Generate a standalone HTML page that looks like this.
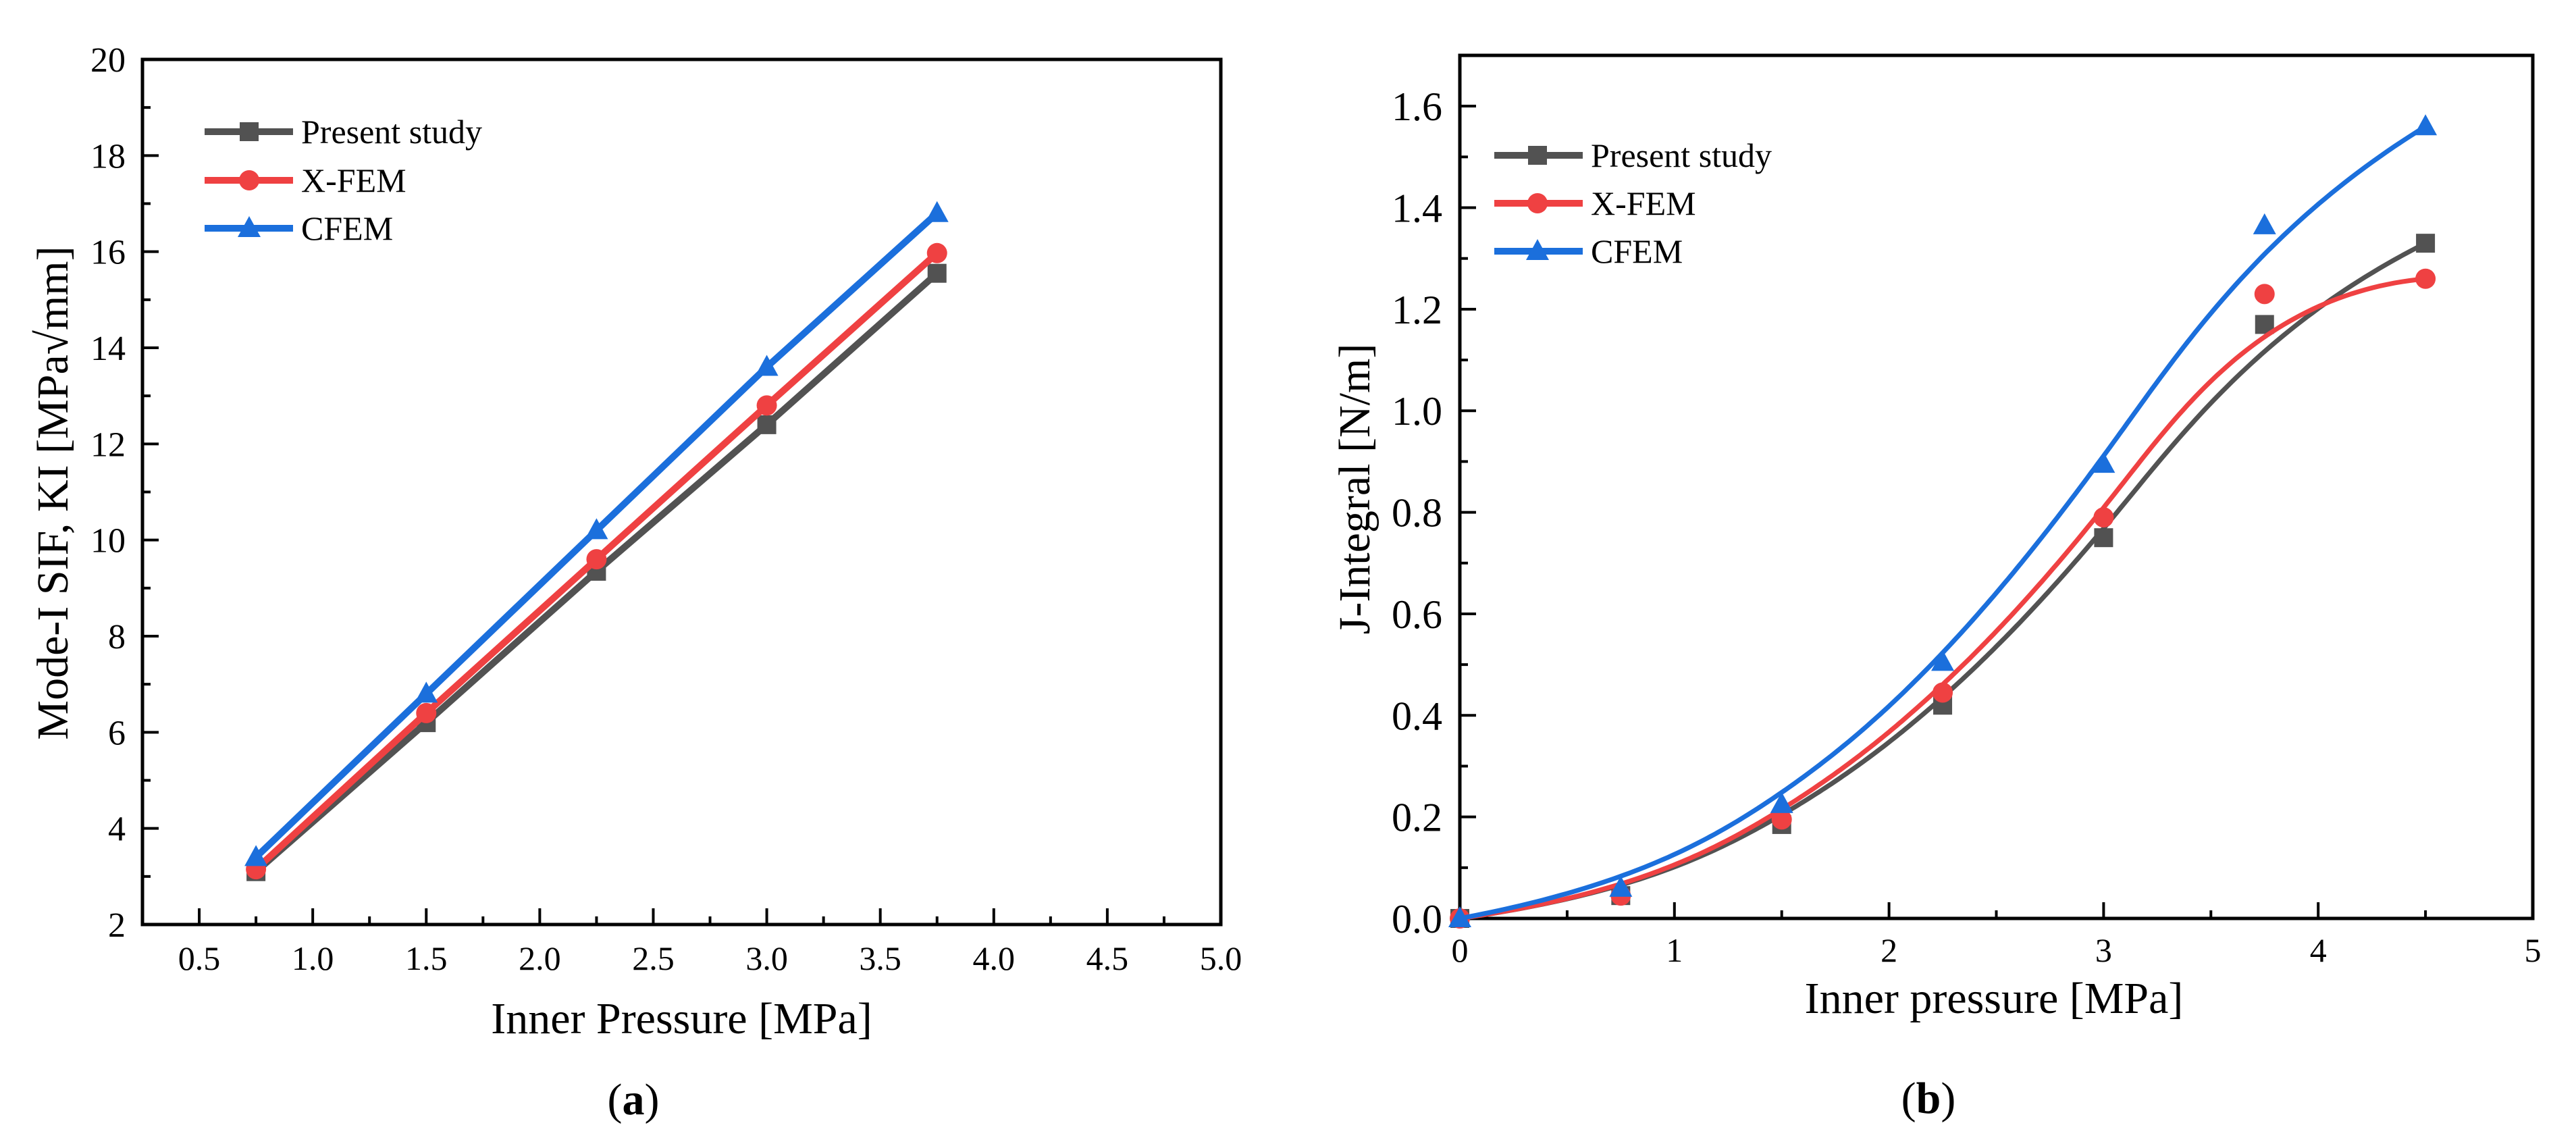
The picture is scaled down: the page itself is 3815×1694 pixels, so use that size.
<!DOCTYPE html>
<html><head><meta charset="utf-8"><style>
html,body{margin:0;padding:0;background:#fff;}
svg{display:block;font-family:"Liberation Serif",serif;}
</style></head><body>
<svg id="fig" width="3815" height="1694" viewBox="0 0 3815 1694"></svg>
<script>
// ---- Chart (a) data ----
const xA = [0.75, 1.5, 2.25, 3.0, 3.75];
const presentA = [3.1, 6.2, 9.35, 12.4, 15.55];
const xfemA = [3.15, 6.4, 9.6, 12.8, 15.97];
const cfemA = [3.4, 6.8, 10.2, 13.6, 16.8];
const xTicksA = ["0.5","1.0","1.5","2.0","2.5","3.0","3.5","4.0","4.5","5.0"];
const yTicksA = ["2","4","6","8","10","12","14","16","18","20"];
// ---- Chart (b) data ----
const xB = [0, 0.75, 1.5, 2.25, 3.0, 3.75, 4.5];
const presentB = [0, 0.045, 0.185, 0.42, 0.75, 1.17, 1.33];
const xfemB = [0, 0.045, 0.195, 0.445, 0.79, 1.23, 1.26];
const cfemB = [0, 0.06, 0.225, 0.505, 0.895, 1.365, 1.56];
const xTicksB = ["0","1","2","3","4","5"];
const yTicksB = ["0.0","0.2","0.4","0.6","0.8","1.0","1.2","1.4","1.6"];

const NS = "http://www.w3.org/2000/svg";
const svg = document.getElementById("fig");
const GRAY = "#525252", RED = "#EF4142", BLUE = "#1B6FDC";

function mk(tag, attrs, parent, name, inter) {
  const e = document.createElementNS(NS, tag);
  for (const k in attrs) e.setAttribute(k, attrs[k]);
  
  
  (parent || svg).appendChild(e);
  return e;
}
function txt(s, x, y, size, parent, name, extra) {
  const t = mk("text", Object.assign({x: x, y: y, "font-size": size, fill: "#000"}, extra || {}), parent, name, false);
  t.textContent = s;
  return t;
}
function marker(type, cx, cy, color, parent, name) {
  if (type === "sq") return mk("rect", {x: cx - 14, y: cy - 14, width: 28, height: 28, fill: color}, parent, name, false);
  if (type === "ci") return mk("circle", {cx: cx, cy: cy, r: 15, fill: color}, parent, name, false);
  return mk("polygon", {points: `${cx},${cy - 18} ${cx + 17},${cy + 13} ${cx - 17},${cy + 13}`, fill: color}, parent, name, false);
}
// clamped cubic B-spline through control points (Origin-style B-spline)
function bspline(P, steps) {
  const n = P.length, p = 3;
  const m = n - p; // number of internal spans
  const knots = [];
  for (let i = 0; i <= p; i++) knots.push(0);
  for (let i = 1; i < m; i++) knots.push(i);
  for (let i = 0; i <= p; i++) knots.push(m);
  const out = [];
  for (let s = 0; s <= steps; s++) {
    let t = m * s / steps;
    if (t >= m) t = m - 1e-9;
    let k = p; while (k < knots.length - p - 2 && t >= knots[k + 1]) k++;
    const d = [];
    for (let j = 0; j <= p; j++) d.push([P[j + k - p][0], P[j + k - p][1]]);
    for (let r = 1; r <= p; r++) {
      for (let j = p; j >= r; j--) {
        const i = j + k - p;
        const a = (t - knots[i]) / (knots[i + p + 1 - r] - knots[i]);
        d[j] = [(1 - a) * d[j - 1][0] + a * d[j][0], (1 - a) * d[j - 1][1] + a * d[j][1]];
      }
    }
    out.push(d[p]);
  }
  return out;
}

// ================= Chart A =================
const A = {l: 211, r: 1808, t: 88, b: 1369, x0: 0.25, x1: 5.0, y0: 2, y1: 20};
const sxA = v => A.l + (v - A.x0) / (A.x1 - A.x0) * (A.r - A.l);
const syA = v => A.b - (v - A.y0) / (A.y1 - A.y0) * (A.b - A.t);
const gA = mk("g", {}, svg, "chart-a", false);
mk("rect", {x: A.l, y: A.t, width: A.r - A.l, height: A.b - A.t, fill: "none", stroke: "#000", "stroke-width": 5}, gA, "plot-frame-a", false);
for (let i = 0; i < xTicksA.length; i++) {
  const v = parseFloat(xTicksA[i]), x = sxA(v);
  mk("line", {x1: x, y1: A.b, x2: x, y2: A.b - 24, stroke: "#000", "stroke-width": 4}, gA, "x-tick-a", false);
  if (v - 0.25 > A.x0) mk("line", {x1: sxA(v - 0.25), y1: A.b, x2: sxA(v - 0.25), y2: A.b - 12, stroke: "#000", "stroke-width": 4}, gA, "x-minor-tick-a", false);
  txt(xTicksA[i], x, 1436, 50, gA, "x-tick-label-a", {"text-anchor": "middle"});
}
for (let i = 0; i < yTicksA.length; i++) {
  const v = parseFloat(yTicksA[i]), y = syA(v);
  mk("line", {x1: A.l, y1: y, x2: A.l + 24, y2: y, stroke: "#000", "stroke-width": 4}, gA, "y-tick-a", false);
  if (v + 1 < A.y1) mk("line", {x1: A.l, y1: syA(v + 1), x2: A.l + 12, y2: syA(v + 1), stroke: "#000", "stroke-width": 4}, gA, "y-minor-tick-a", false);
  txt(yTicksA[i], 186, y + 18, 52, gA, "y-tick-label-a", {"text-anchor": "end"});
}
txt("Inner Pressure [MPa]", (A.l + A.r) / 2, 1530, 66, gA, "x-axis-title-a", {"text-anchor": "middle"});
txt("Mode-I SIF, KI [MPa\u221Amm]", 0, 0, 66, gA, "y-axis-title-a", {"text-anchor": "middle", transform: "translate(100,730) rotate(-90)"});
const capA = txt("(", 938, 1650, 66, gA, "caption-a", {"text-anchor": "middle"});
capA.innerHTML = '(<tspan font-weight="bold">a</tspan>)';
const seriesA = [[presentA, GRAY, "sq", "present-study"], [xfemA, RED, "ci", "x-fem"], [cfemA, BLUE, "tr", "cfem"]];
seriesA.forEach(([ys, c, m, nm]) => {
  const g = mk("g", {}, gA, "series-" + nm + "-a", false);
  mk("polyline", {points: xA.map((x, i) => sxA(x) + "," + syA(ys[i])).join(" "), fill: "none", stroke: c, "stroke-width": 10, "stroke-linejoin": "round"}, g, "line-" + nm + "-a", false);
  xA.forEach((x, i) => marker(m, sxA(x), syA(ys[i]), c, g, "point-" + nm + "-a"));
});
const legA = [[195, GRAY, "sq", "Present study"], [267, RED, "ci", "X-FEM"], [338, BLUE, "tr", "CFEM"]];
legA.forEach(([y, c, m, s]) => {
  const g = mk("g", {}, gA, "legend-entry-a", false);
  mk("line", {x1: 303, y1: y, x2: 434, y2: y, stroke: c, "stroke-width": 10}, g, "legend-line", false);
  marker(m, 369, y, c, g, "legend-marker");
  txt(s, 446, y + 17, 50, g, "legend-label");
});

// ================= Chart B =================
const B = {l: 2162, r: 3751, t: 82, b: 1360, x0: 0, x1: 5, y0: 0, y1: 1.7};
const sxB = v => B.l + (v - B.x0) / (B.x1 - B.x0) * (B.r - B.l);
const syB = v => B.b - (v - B.y0) / (B.y1 - B.y0) * (B.b - B.t);
const gB = mk("g", {}, svg, "chart-b", false);
mk("rect", {x: B.l, y: B.t, width: B.r - B.l, height: B.b - B.t, fill: "none", stroke: "#000", "stroke-width": 5}, gB, "plot-frame-b", false);
for (let i = 0; i < xTicksB.length; i++) {
  const v = parseFloat(xTicksB[i]), x = sxB(v);
  mk("line", {x1: x, y1: B.b, x2: x, y2: B.b - 24, stroke: "#000", "stroke-width": 4}, gB, "x-tick-b", false);
  if (v + 0.5 < B.x1) mk("line", {x1: sxB(v + 0.5), y1: B.b, x2: sxB(v + 0.5), y2: B.b - 12, stroke: "#000", "stroke-width": 4}, gB, "x-minor-tick-b", false);
  txt(xTicksB[i], x, 1424, 50, gB, "x-tick-label-b", {"text-anchor": "middle"});
}
for (let i = 0; i < yTicksB.length; i++) {
  const v = parseFloat(yTicksB[i]), y = syB(v);
  mk("line", {x1: B.l, y1: y, x2: B.l + 24, y2: y, stroke: "#000", "stroke-width": 4}, gB, "y-tick-b", false);
  if (v + 0.1 < B.y1) mk("line", {x1: B.l, y1: syB(v + 0.1), x2: B.l + 12, y2: syB(v + 0.1), stroke: "#000", "stroke-width": 4}, gB, "y-minor-tick-b", false);
  txt(yTicksB[i], 2136, y + 21, 60, gB, "y-tick-label-b", {"text-anchor": "end"});
}
txt("Inner pressure [MPa]", 2953, 1500, 66, gB, "x-axis-title-b", {"text-anchor": "middle"});
txt("J-Integral [N/m]", 0, 0, 66, gB, "y-axis-title-b", {"text-anchor": "middle", transform: "translate(2028,724) rotate(-90)"});
const capB = txt("(", 2856, 1648, 66, gB, "caption-b", {"text-anchor": "middle"});
capB.innerHTML = '(<tspan font-weight="bold">b</tspan>)';
const seriesB = [[presentB, GRAY, "sq", "present-study"], [xfemB, RED, "ci", "x-fem"], [cfemB, BLUE, "tr", "cfem"]];
seriesB.forEach(([ys, c, m, nm]) => {
  const g = mk("g", {}, gB, "series-" + nm + "-b", false);
  const ctrl = xB.map((x, i) => [sxB(x), syB(ys[i])]);
  const pts = bspline(ctrl, 240).map(p => p[0].toFixed(1) + "," + p[1].toFixed(1));
  mk("polyline", {points: pts.join(" "), fill: "none", stroke: c, "stroke-width": 7}, g, "fit-curve-" + nm + "-b", false);
  xB.forEach((x, i) => marker(m, sxB(x), syB(ys[i]), c, g, "point-" + nm + "-b"));
});
const legB = [[230, GRAY, "sq", "Present study"], [301, RED, "ci", "X-FEM"], [372, BLUE, "tr", "CFEM"]];
legB.forEach(([y, c, m, s]) => {
  const g = mk("g", {}, gB, "legend-entry-b", false);
  mk("line", {x1: 2213, y1: y, x2: 2344, y2: y, stroke: c, "stroke-width": 10}, g, "legend-line", false);
  marker(m, 2277, y, c, g, "legend-marker");
  txt(s, 2356, y + 17, 50, g, "legend-label");
});
</script>
</body></html>
